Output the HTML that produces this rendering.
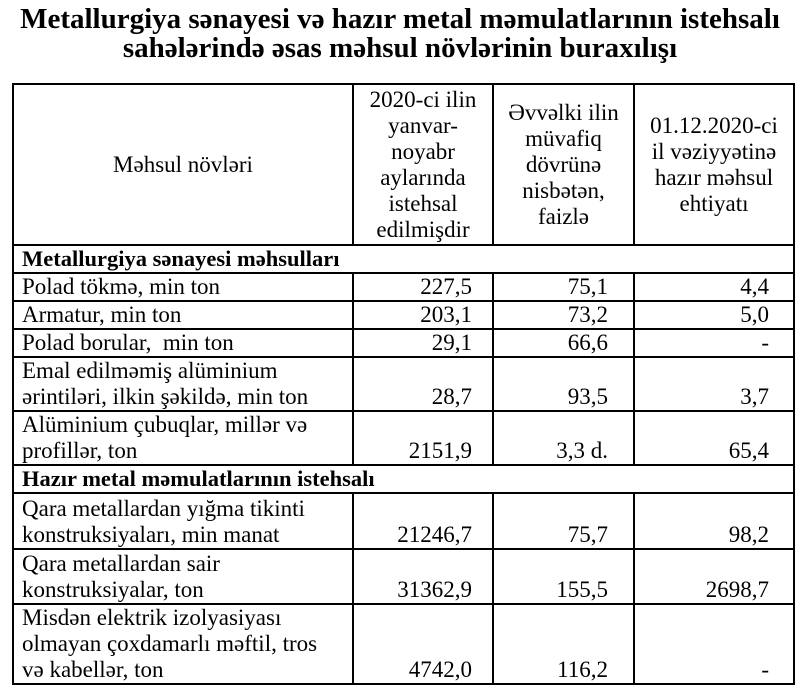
<!DOCTYPE html>
<html><head><meta charset="utf-8"><style>
body{margin:0;width:800px;height:697px;background:#fff;font-family:"Liberation Serif",serif;color:#000;position:relative;overflow:hidden}
.t{position:absolute;left:0;width:800px;text-align:center;font-weight:bold;font-size:29px;line-height:28px;white-space:nowrap}
table{position:absolute;left:12px;top:83px;border-collapse:collapse;table-layout:fixed;width:781px}
td{border:2px solid #000;font-size:23px;line-height:26px;padding:0 12px 0 8px;vertical-align:bottom;white-space:nowrap;overflow:hidden}
td.n{text-align:right;padding-right:20px}
td.n3{padding-right:25px}
td.n4{padding-right:24px}
td.h{text-align:center;vertical-align:middle;padding:0 2px;font-size:23px}
td.s{font-weight:bold;font-size:22.5px}
</style></head><body>
<div class="t" style="top:5px">Metallurgiya sənayesi və hazır metal məmulatlarının istehsalı</div>
<div class="t" style="top:34px">sahələrində əsas məhsul növlərinin buraxılışı</div>
<table>
<colgroup><col style="width:340px"><col style="width:140px"><col style="width:141px"><col style="width:160px"></colgroup>
<tr style="height:161px"><td class="h">Məhsul növləri</td><td class="h">2020-ci ilin<br>yanvar-<br>noyabr<br>aylarında<br>istehsal<br>edilmişdir</td><td class="h">Əvvəlki ilin<br>müvafiq<br>dövrünə<br>nisbətən,<br>faizlə</td><td class="h">01.12.2020-ci<br>il vəziyyətinə<br>hazır məhsul<br>ehtiyatı</td></tr>
<tr style="height:28px"><td class="s" colspan="4">Metallurgiya sənayesi məhsulları</td></tr>
<tr style="height:28px"><td>Polad tökmə, min ton</td><td class="n">227,5</td><td class="n n3">75,1</td><td class="n n4">4,4</td></tr>
<tr style="height:28px"><td>Armatur, min ton</td><td class="n">203,1</td><td class="n n3">73,2</td><td class="n n4">5,0</td></tr>
<tr style="height:28px"><td>Polad borular,&nbsp; min ton</td><td class="n">29,1</td><td class="n n3">66,6</td><td class="n n4">-</td></tr>
<tr style="height:54px"><td>Emal edilməmiş alüminium<br>ərintiləri, ilkin şəkildə, min ton</td><td class="n">28,7</td><td class="n n3">93,5</td><td class="n n4">3,7</td></tr>
<tr style="height:54px"><td>Alüminium çubuqlar, millər və<br>profillər, ton</td><td class="n">2151,9</td><td class="n n3">3,3 d.</td><td class="n n4">65,4</td></tr>
<tr style="height:28px"><td class="s" colspan="4">Hazır metal məmulatlarının istehsalı</td></tr>
<tr style="height:56px"><td>Qara metallardan yığma tikinti<br>konstruksiyaları, min manat</td><td class="n">21246,7</td><td class="n n3">75,7</td><td class="n n4">98,2</td></tr>
<tr style="height:55px"><td>Qara metallardan sair<br>konstruksiyalar, ton</td><td class="n">31362,9</td><td class="n n3">155,5</td><td class="n n4">2698,7</td></tr>
<tr style="height:79px"><td>Misdən elektrik izolyasiyası<br>olmayan çoxdamarlı məftil, tros<br>və kabellər, ton</td><td class="n">4742,0</td><td class="n n3">116,2</td><td class="n n4">-</td></tr>
</table>
</body></html>
